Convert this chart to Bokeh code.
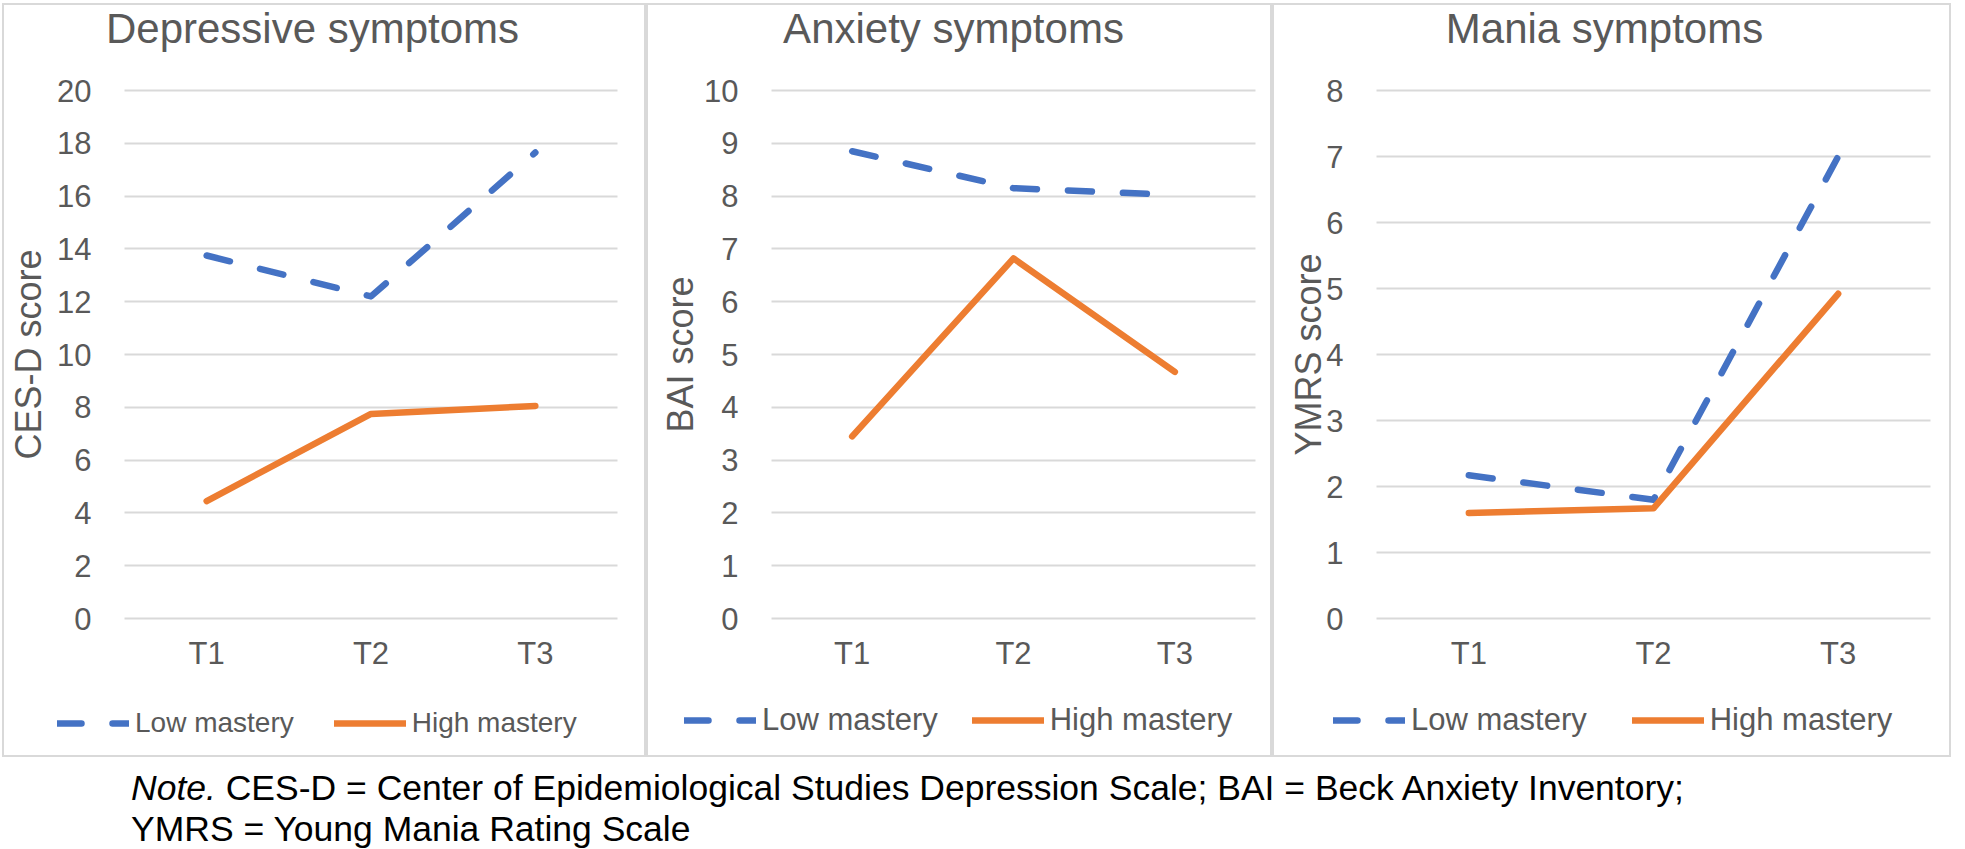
from bokeh.plotting import figure
from bokeh.models import (Range1d, FixedTicker, Legend, LegendItem, Div, Spacer,
                          Label, LinearAxis)
from bokeh.layouts import row, column
from bokeh.embed import file_html
from bokeh.resources import INLINE

# ---------------- data ----------------
categories = ["T1", "T2", "T3"]
series_names = ["Low mastery", "High mastery"]

dep_low = [13.75, 12.2, 17.65]
dep_high = [4.45, 7.75, 8.05]
anx_low = [8.85, 8.15, 8.02]
anx_high = [3.45, 6.82, 4.67]
man_low = [2.17, 1.80, 7.0]
man_high = [1.60, 1.67, 4.92]

dep_ticks = [0, 2, 4, 6, 8, 10, 12, 14, 16, 18, 20]
anx_ticks = [0, 1, 2, 3, 4, 5, 6, 7, 8, 9, 10]
man_ticks = [0, 1, 2, 3, 4, 5, 6, 7, 8]

panel_titles = ["Depressive symptoms", "Anxiety symptoms", "Mania symptoms"]
y_labels = ["CES-D score", "BAI score", "YMRS score"]

note_line1 = "CES-D = Center of Epidemiological Studies Depression Scale; BAI = Beck Anxiety Inventory;"
note_line2 = "YMRS = Young Mania Rating Scale"

# ---------------- style / layout ----------------
FONT = "Liberation Sans"
GREY = "#595959"
BLUE = "#4472C4"
ORANGE = "#ED7D31"
GRID = "#D9D9D9"
H = 754            # canvas height (inside the 2px css border)
PLOT_T = 85        # plot-area top (px from canvas top)
PLOT_B = 613       # plot-area bottom
TITLE_BASE = 23    # title baseline (px from canvas top)


def make_panel(title, ylabel, low, high, ticks, W, L, R, title_cx, ylab_standoff,
               legend_x, legend_y, legend_font, legend_spacing):
    n = len(categories)
    xpos = [i + 0.5 for i in range(n)]
    ymax = ticks[-1]
    sx = (R - L) / n
    sy = (PLOT_B - PLOT_T) / ymax
    xr = Range1d(-L / sx, n + (W - R) / sx)
    yr = Range1d(-(H - PLOT_B) / sy, ymax + PLOT_T / sy)

    p = figure(x_range=xr, y_range=yr, width=W, height=H,
               output_backend="svg", toolbar_location=None,
               x_axis_location=None, y_axis_location=None,
               min_border=0, min_border_left=0, min_border_right=0,
               min_border_top=0, min_border_bottom=0,
               outline_line_color=None, background_fill_color="white",
               border_fill_color="white")
    p.styles = {"border": "2px solid #D9D9D9"}

    # y axis placed at the left edge of the plot area
    yax = LinearAxis(ticker=FixedTicker(ticks=ticks), fixed_location=0,
                     bounds=(0, ymax))
    # x axis placed at y = 0
    xax = LinearAxis(ticker=FixedTicker(ticks=xpos), fixed_location=0,
                     major_label_overrides={x: c for x, c in zip(xpos, categories)})
    for ax in (xax, yax):
        ax.axis_line_color = None
        ax.major_tick_line_color = None
        ax.minor_tick_line_color = None
        ax.major_label_text_font = FONT
        ax.major_label_text_font_size = "31px"
        ax.major_label_text_color = GREY
    yax.major_label_standoff = 27
    xax.major_label_standoff = 11
    yax.axis_label = ylabel
    yax.axis_label_text_font = FONT
    yax.axis_label_text_font_size = "36px"
    yax.axis_label_text_font_style = "normal"
    yax.axis_label_text_color = GREY
    yax.axis_label_standoff = ylab_standoff
    p.add_layout(yax, "left")
    p.add_layout(xax, "below")

    p.xgrid.visible = False
    p.ygrid.ticker = FixedTicker(ticks=ticks)
    p.ygrid.grid_line_color = GRID
    p.ygrid.grid_line_width = 2
    p.ygrid.bounds = (0, ymax)
    p.ygrid.cross_bounds = (0, n)

    r_low = p.line(xpos, low, line_color=BLUE, line_width=6.5,
                   line_dash="24 31", line_cap="round", line_join="round")
    r_high = p.line(xpos, high, line_color=ORANGE, line_width=6.5,
                    line_cap="round", line_join="round")

    p.add_layout(Label(x=(title_cx - L) / sx, y=ymax + (PLOT_T - TITLE_BASE) / sy,
                       text=title, text_align="center", text_baseline="alphabetic",
                       text_font=FONT, text_font_size="42px", text_color=GREY))

    legend = Legend(items=[LegendItem(label=series_names[0], renderers=[r_low]),
                           LegendItem(label=series_names[1], renderers=[r_high])],
                    orientation="horizontal", location=(legend_x, legend_y),
                    glyph_width=72, glyph_height=20, label_standoff=6,
                    spacing=legend_spacing, padding=0, margin=0,
                    border_line_color=None, background_fill_alpha=0,
                    label_text_font=FONT, label_text_font_size=legend_font,
                    label_text_color=GREY)
    p.add_layout(legend)
    return p


p1 = make_panel(panel_titles[0], y_labels[0], dep_low, dep_high, dep_ticks,
                644, 120, 613, 308, 5, 53, 20, "28px", 40)
p2 = make_panel(panel_titles[1], y_labels[1], anx_low, anx_high, anx_ticks,
                626, 123, 607, 305, 0, 36, 21, "31px", 34)
p3 = make_panel(panel_titles[2], y_labels[2], man_low, man_high, man_ticks,
                679, 102, 656, 330, -6, 59, 21, "31px", 45)

note = Div(text=(
    "<div style=\"margin-left:126px;padding-top:6px;font-family:'Liberation Sans';"
    "font-size:35.5px;line-height:41px;color:#000;white-space:nowrap;\">"
    "<i>Note.</i> " + note_line1 + "<br>" + note_line2 + "</div>"),
    width=1960, height=88)

layout = column(Spacer(height=3),
                row(Spacer(width=2), p1, p2, p3),
                note)

with open("out.html", "w") as f:
    f.write(file_html(layout, INLINE))
